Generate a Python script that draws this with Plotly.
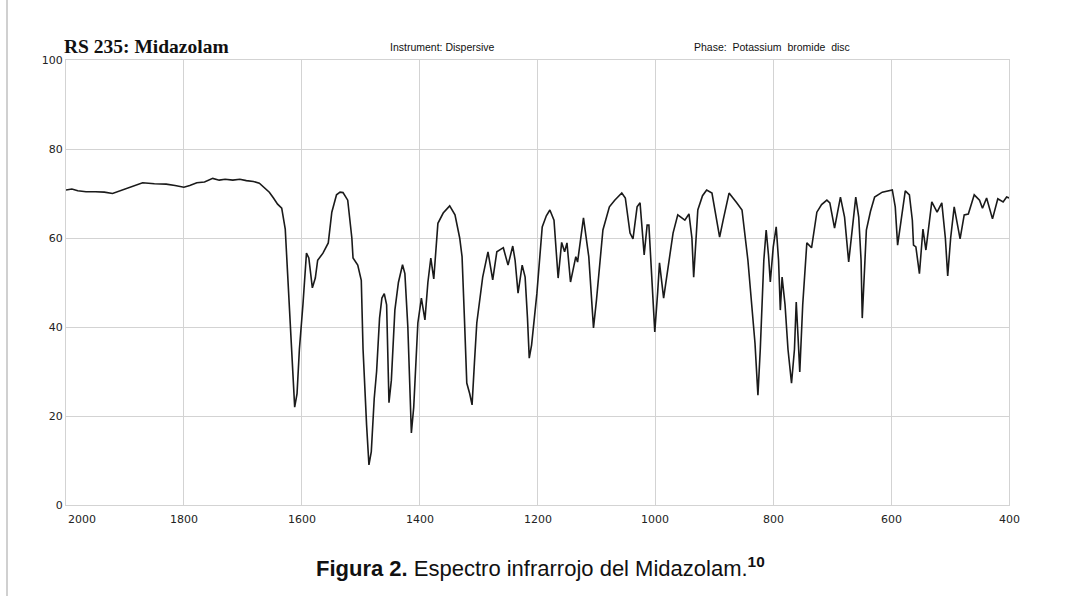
import plotly.graph_objects as go

# Wavenumber (cm-1) and transmittance (%)
wavenumber = [
    2000, 1990, 1980, 1966, 1950, 1935, 1921, 1905, 1890, 1870, 1850, 1830, 1815, 1800,
    1790, 1778, 1765, 1751, 1740, 1730, 1717, 1705, 1694, 1682, 1672, 1662, 1655, 1648,
    1641, 1634, 1628, 1624, 1620, 1616, 1612, 1608, 1604, 1598, 1592, 1588, 1582, 1577,
    1573, 1564, 1555, 1549, 1541, 1535, 1530, 1522, 1515, 1513, 1505, 1499, 1496, 1490,
    1486, 1482, 1477, 1473, 1468, 1464, 1460, 1456, 1452, 1448, 1442, 1436, 1429, 1425,
    1420, 1414, 1410, 1403, 1397, 1391, 1386, 1381, 1376, 1369, 1360, 1349, 1340, 1332,
    1328, 1324, 1320, 1315, 1311, 1307, 1303, 1293, 1284, 1276, 1269, 1262, 1258, 1250,
    1242, 1238, 1233, 1226, 1221, 1217, 1214, 1210, 1201, 1192, 1185, 1179, 1172, 1165,
    1159, 1154, 1150, 1144, 1135, 1132, 1122, 1113, 1108, 1105, 1100, 1089, 1078, 1069,
    1057, 1051, 1043, 1038, 1031, 1026, 1019, 1014, 1011, 1005, 1001, 996, 993, 986,
    979, 970, 962, 950, 943, 938, 935, 930, 928, 920, 913, 904, 897, 891,
    885, 875, 862, 853, 843, 836, 831, 826, 822, 816, 812, 808, 805, 800,
    795, 791, 788, 785, 780, 775, 769, 764, 761, 758, 755, 750, 743, 735,
    726, 718, 709, 704, 696, 686, 679, 672, 665, 660, 655, 651, 649, 645,
    642, 635, 628, 615, 598, 593, 589, 583, 576, 569, 564, 562, 558, 552,
    546, 541, 531, 522, 514, 508, 504, 499, 493, 483, 476, 469, 459, 450,
    445, 438, 428, 419, 410, 404, 400,
]
transmittance = [
    70.8, 71.0, 70.6, 70.4, 70.4, 70.3, 70.0, 70.8, 71.5, 72.4, 72.2, 72.1, 71.8, 71.4,
    71.8, 72.4, 72.6, 73.4, 73.0, 73.2, 73.0, 73.2, 72.9, 72.7, 72.3, 71.2, 70.3, 69.0,
    67.6, 66.7, 62.0, 52.0, 41.0, 30.0, 22.0, 25.0, 35.0, 45.0, 56.6, 55.5, 48.8, 51.0,
    55.0, 56.6, 58.9, 65.8, 69.7, 70.3, 70.2, 68.5, 60.0, 55.5, 53.9, 50.5, 35.0, 18.0,
    9.0, 12.0, 24.0, 30.0, 42.0, 46.5, 47.5, 45.0, 23.0, 28.0, 43.8, 50.0, 54.0, 52.0,
    40.0, 16.2, 22.0, 40.9, 46.5, 41.6, 50.0, 55.5, 50.8, 63.3, 65.6, 67.2, 65.2, 60.0,
    55.8, 42.0, 27.4, 25.0, 22.5, 32.0, 40.9, 51.2, 56.9, 50.6, 56.9, 57.5, 57.8, 53.9,
    58.2, 55.0, 47.6, 53.9, 51.2, 42.0, 33.0, 36.0, 47.6, 62.5, 65.0, 66.3, 64.0, 51.0,
    59.0, 56.9, 58.9, 50.1, 55.8, 54.6, 64.5, 55.8, 45.0, 39.8, 46.0, 61.8, 67.0, 68.5,
    70.1, 69.0, 61.1, 59.8, 67.0, 67.9, 56.2, 62.9, 62.9, 50.0, 38.9, 48.0, 54.4, 46.5,
    52.8, 61.1, 65.2, 64.0, 65.4, 60.0, 51.2, 62.0, 66.3, 69.5, 70.8, 70.1, 65.0, 60.2,
    64.0, 70.1, 67.9, 66.3, 55.0, 45.0, 36.4, 24.7, 35.0, 55.0, 61.8, 56.0, 50.1, 58.0,
    62.5, 55.0, 43.8, 51.2, 45.0, 35.0, 27.4, 35.0, 45.6, 38.0, 29.9, 45.0, 58.9, 57.8,
    65.8, 67.5, 68.5, 67.9, 62.2, 69.2, 64.7, 54.6, 63.0, 69.2, 64.7, 55.0, 42.0, 55.0,
    61.8, 66.0, 69.2, 70.3, 70.8, 67.0, 58.4, 64.0, 70.6, 69.7, 64.0, 58.4, 58.0, 52.0,
    62.0, 57.3, 68.1, 65.8, 67.9, 60.0, 51.5, 60.0, 67.0, 59.8, 65.2, 65.4, 69.7, 68.5,
    66.7, 69.0, 64.3, 68.8, 68.1, 69.2, 69.0,
]

x_ticks = [2000, 1800, 1600, 1400, 1200, 1000, 800, 600, 400]
y_ticks = [0, 20, 40, 60, 80, 100]

title_text = "RS 235: Midazolam"
instrument_text = "Instrument: Dispersive"
phase_text = "Phase:  Potassium  bromide  disc"
caption_text = "<b>Figura 2.</b> Espectro infrarrojo del Midazolam.<sup><b>10</b></sup>"

W, H = 1092, 596
L, R, T, B = 66, 83, 60, 91
pw, ph = W - L - R, H - T - B


def px(xp):
    return (xp - L) / pw


def py(yp):
    return (H - B - yp) / ph


fig = go.Figure()
fig.add_trace(go.Scatter(
    x=wavenumber, y=transmittance, mode="lines",
    line=dict(color="#1a1a1a", width=1.6),
    hoverinfo="skip", showlegend=False,
))

grid = "#d3d3d3"
fig.update_xaxes(
    range=[2000, 400], tickvals=x_ticks, showticklabels=False,
    showgrid=True, gridcolor=grid, gridwidth=1, zeroline=False,
    showline=True, linecolor=grid, linewidth=1, mirror=True, ticks="",
)
fig.update_yaxes(
    range=[0, 100], tickvals=y_ticks, showgrid=True, gridcolor=grid, gridwidth=1,
    zeroline=False, showline=True, linecolor=grid, linewidth=1, mirror=True,
    ticks="", tickfont=dict(family="DejaVu Sans", size=11, color="#222"),
)

annotations = []
for v in x_ticks:
    annotations.append(dict(
        x=v, y=py(519), xref="x", yref="paper", text=str(v), showarrow=False,
        xanchor="left" if v == 2000 else "center", yanchor="middle",
        font=dict(family="DejaVu Sans", size=11, color="#222"),
    ))

annotations += [
    dict(x=px(62), y=py(46), xref="paper", yref="paper", text=f"<b>{title_text}</b>",
         showarrow=False, xanchor="left", yanchor="middle",
         font=dict(family="Liberation Serif", size=19.5, color="#111")),
    dict(x=px(388), y=py(47), xref="paper", yref="paper", text=instrument_text,
         showarrow=False, xanchor="left", yanchor="middle",
         font=dict(family="Liberation Sans", size=10.5, color="#111")),
    dict(x=px(692), y=py(47), xref="paper", yref="paper", text=phase_text,
         showarrow=False, xanchor="left", yanchor="middle",
         font=dict(family="Liberation Sans", size=10.5, color="#111")),
    dict(x=px(540), y=py(567), xref="paper", yref="paper", text=caption_text,
         showarrow=False, xanchor="center", yanchor="middle",
         font=dict(family="Liberation Sans", size=22, color="#111")),
]

shapes = [
    dict(type="line", xref="paper", yref="paper", x0=px(7), x1=px(7), y0=py(0), y1=py(596),
         line=dict(color="#d0d0d0", width=2)),
]

fig.update_layout(
    width=W, height=H, margin=dict(l=L, r=R, t=T, b=B),
    paper_bgcolor="white", plot_bgcolor="white",
    annotations=annotations, shapes=shapes,
)

fig.write_html("out.html")
